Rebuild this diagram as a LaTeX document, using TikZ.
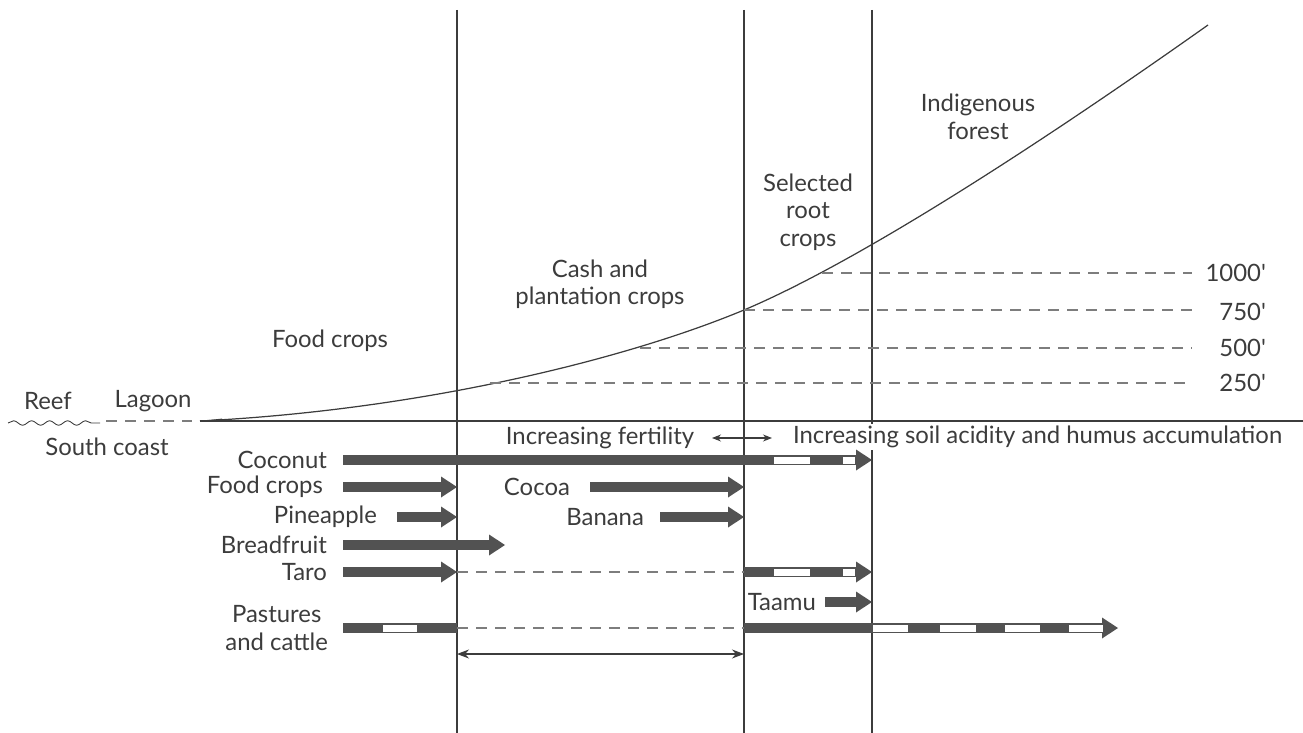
\documentclass[tikz,border=0pt]{standalone}
\usepackage{fontspec}
\setmainfont{Lato}
\usepackage{tikz}
\usetikzlibrary{positioning,arrows.meta,decorations.pathmorphing}
\definecolor{inkgray}{RGB}{60,60,60}
\definecolor{bargray}{RGB}{82,82,82}
\definecolor{dashgray}{RGB}{125,125,125}
\tikzset{
  zoneline/.style = {draw=inkgray, line width=0.7pt},
  contour/.style  = {draw=dashgray, line width=0.6pt, dash pattern=on 2.2mm off 1.6mm},
  cropbar/.style  = {draw=bargray, line width=2mm,
                     -{Triangle[length=3.2mm, width=4.2mm, line width=0pt]}},
  plainbar/.style = {draw=bargray, line width=2mm},
  hollow/.style   = {fill=white, draw=bargray, line width=0.5pt},
  lbl/.style      = {font=\fontsize{13.6}{15.6}\selectfont, text=inkgray,
                     inner sep=1pt, align=center},
  rowlbl/.style   = {lbl, anchor=east},
  span/.style     = {draw=inkgray, line width=0.6pt,
                     {Stealth[length=2.4mm, width=1.8mm]}-{Stealth[length=2.4mm, width=1.8mm]}}
}
\newcommand{\gapseg}[3]{\draw[hollow] (#1,#3-4) rectangle (#2,#3+4);}
\newcommand{\ft}{\textquotesingle}

\begin{document}
\begin{tikzpicture}[x=0.2mm, y=-0.2mm]
  \useasboundingbox (0,0) rectangle (1303,733);
  % ---- zone boundaries ----
  \coordinate (vAt) at (457,10);  \coordinate (vAb) at (457,733);
  \coordinate (vBt) at (744,10);  \coordinate (vBb) at (744,733);
  \coordinate (vCt) at (872,10);  \coordinate (vCb) at (872,733);
  \draw[zoneline] (vAt) -- (vAb);
  \draw[zoneline] (vBt) -- (vBb);
  \draw[zoneline] (vCt) -- (vCb);
  % ---- coast and profile ----
  \coordinate (shore) at (200,421);
  \coordinate (gEnd)  at (1303,421);
  \coordinate (peak)  at (1208,25);
  \coordinate (c750)  at (744,310);
  \draw[zoneline] (shore) -- (gEnd);
  \draw[zoneline] (shore) .. controls (420,410) and (624,360) .. (c750)
                          .. controls (874,255) and (1078,117) .. (peak);
  \fill[inkgray] (shore) -- (222,418.6) -- (222,421.5) -- cycle;
  \coordinate (reefL) at (8,423);  \coordinate (reefR) at (100,423);
  \coordinate (lagL) at (106,421); \coordinate (lagR) at (192,421);
  \draw[inkgray, line width=0.5pt, decorate,
        decoration={snake, segment length=3.6mm, amplitude=0.45mm}] (reefL) -- (reefR);
  \draw[contour] (lagL) -- (lagR);
  \node[lbl] (reef)   at (48,401)  {Reef};
  \node[lbl] (lagoon) at (153,401) {Lagoon};
  \node[lbl] (south)  at (107,447) {South coast};
  % ---- zone titles ----
  \node[lbl] (forest) at (978,117) {Indigenous\\forest};
  \node[lbl] (root)   at (808,212) {Selected\\root\\crops};
  \node[lbl] (cash)   at (600,284) {Cash and\\plantation crops};
  \node[lbl] (food)   at (330,341) {Food crops};
  % ---- contours ----
  \coordinate (dEnd) at (1192,0);
  \coordinate (c1000) at (822,273);
  \coordinate (c500)  at (640,348);
  \coordinate (c250)  at (490,383);
  \draw[contour] (c1000) -- (c1000 -| dEnd);
  \draw[contour] (c750)  -- (c750 -| dEnd);
  \draw[contour] (c500)  -- (c500 -| dEnd);
  \draw[contour] (c250)  -- (c250 -| dEnd);
  \node[lbl, anchor=east] (h1000) at (1268,273) {1000\ft};
  \node[lbl, anchor=east] (h750)  at (1268,312) {750\ft};
  \node[lbl, anchor=east] (h500)  at (1268,348) {500\ft};
  \node[lbl, anchor=east] (h250)  at (1268,383) {250\ft};
  % ---- soil trends ----
  \node[lbl] (fert) at (600,438) {Increasing fertility};
  \coordinate (fL) at (712,438); \coordinate (fR) at (772,438);
  \draw[span, {Stealth[length=1.8mm, width=1.4mm]}-{Stealth[length=1.8mm, width=1.4mm]}] (fL) -- (fR);
  \node[lbl, anchor=west, fill=white] (acid) at (791,437) {Increasing soil acidity and humus accumulation};
  % ---- crop bars ----
  \coordinate (cocoS)  at (343,460);
  \coordinate (foodS)  at (343,487);
  \coordinate (pineS)  at (397,517);
  \coordinate (breadS) at (343,545); \coordinate (breadE) at (505,545);
  \coordinate (taroS)  at (343,572);
  \coordinate (cocoaS) at (590,487);
  \coordinate (banS)   at (660,517);
  \coordinate (taamuS) at (825,602);
  \coordinate (pastS)  at (343,628); \coordinate (pastE) at (1118,628);
  \node[rowlbl, left=2.8mm of cocoS]  (coco)  {Coconut};
  \node[rowlbl, left=3.6mm of foodS]  (foodc) {Food crops};
  \node[rowlbl, left=3.6mm of pineS]  (pine)  {Pineapple};
  \node[rowlbl, left=2.8mm of breadS] (bread) {Breadfruit};
  \node[rowlbl, left=2.8mm of taroS]  (taro)  {Taro};
  \node[rowlbl, left=3.6mm of cocoaS] (cocoa) {Cocoa};
  \node[rowlbl, left=2.8mm of banS]   (ban)   {Banana};
  \node[rowlbl, left=1.4mm of taamuS] (taamu) {Taamu};
  \node[rowlbl, left=2.6mm of pastS]  (past)  {Pastures\\and cattle};
  \draw[cropbar] (cocoS) -- (cocoS -| vCt);
  \gapseg{773}{810}{460} \gapseg{842}{855}{460}
  \draw[cropbar] (foodS) -- (foodS -| vAt);
  \draw[cropbar] (pineS) -- (pineS -| vAt);
  \draw[cropbar] (breadS) -- (breadE);
  \draw[cropbar] (taroS) -- (taroS -| vAt);
  \draw[contour] (taroS -| vAt) -- (taroS -| vBt);
  \draw[cropbar] (taroS -| vBt) -- (taroS -| vCt);
  \gapseg{773}{810}{572} \gapseg{842}{855}{572}
  \draw[cropbar] (cocoaS) -- (cocoaS -| vBt);
  \draw[cropbar] (banS) -- (banS -| vBt);
  \draw[cropbar] (taamuS) -- (taamuS -| vCt);
  \draw[plainbar] (pastS) -- (pastS -| vAt);
  \gapseg{382}{417}{628}
  \draw[contour] (pastS -| vAt) -- (pastS -| vBt);
  \draw[cropbar] (pastS -| vBt) -- (pastE);
  \gapseg{872}{908}{628} \gapseg{939}{976}{628}
  \gapseg{1004}{1040}{628} \gapseg{1068}{1103}{628}
  % ---- fertile span ----
  \coordinate (spanL) at (457,654); \coordinate (spanR) at (744,654);
  \draw[span] (spanL) -- (spanR);
\end{tikzpicture}
\end{document}
